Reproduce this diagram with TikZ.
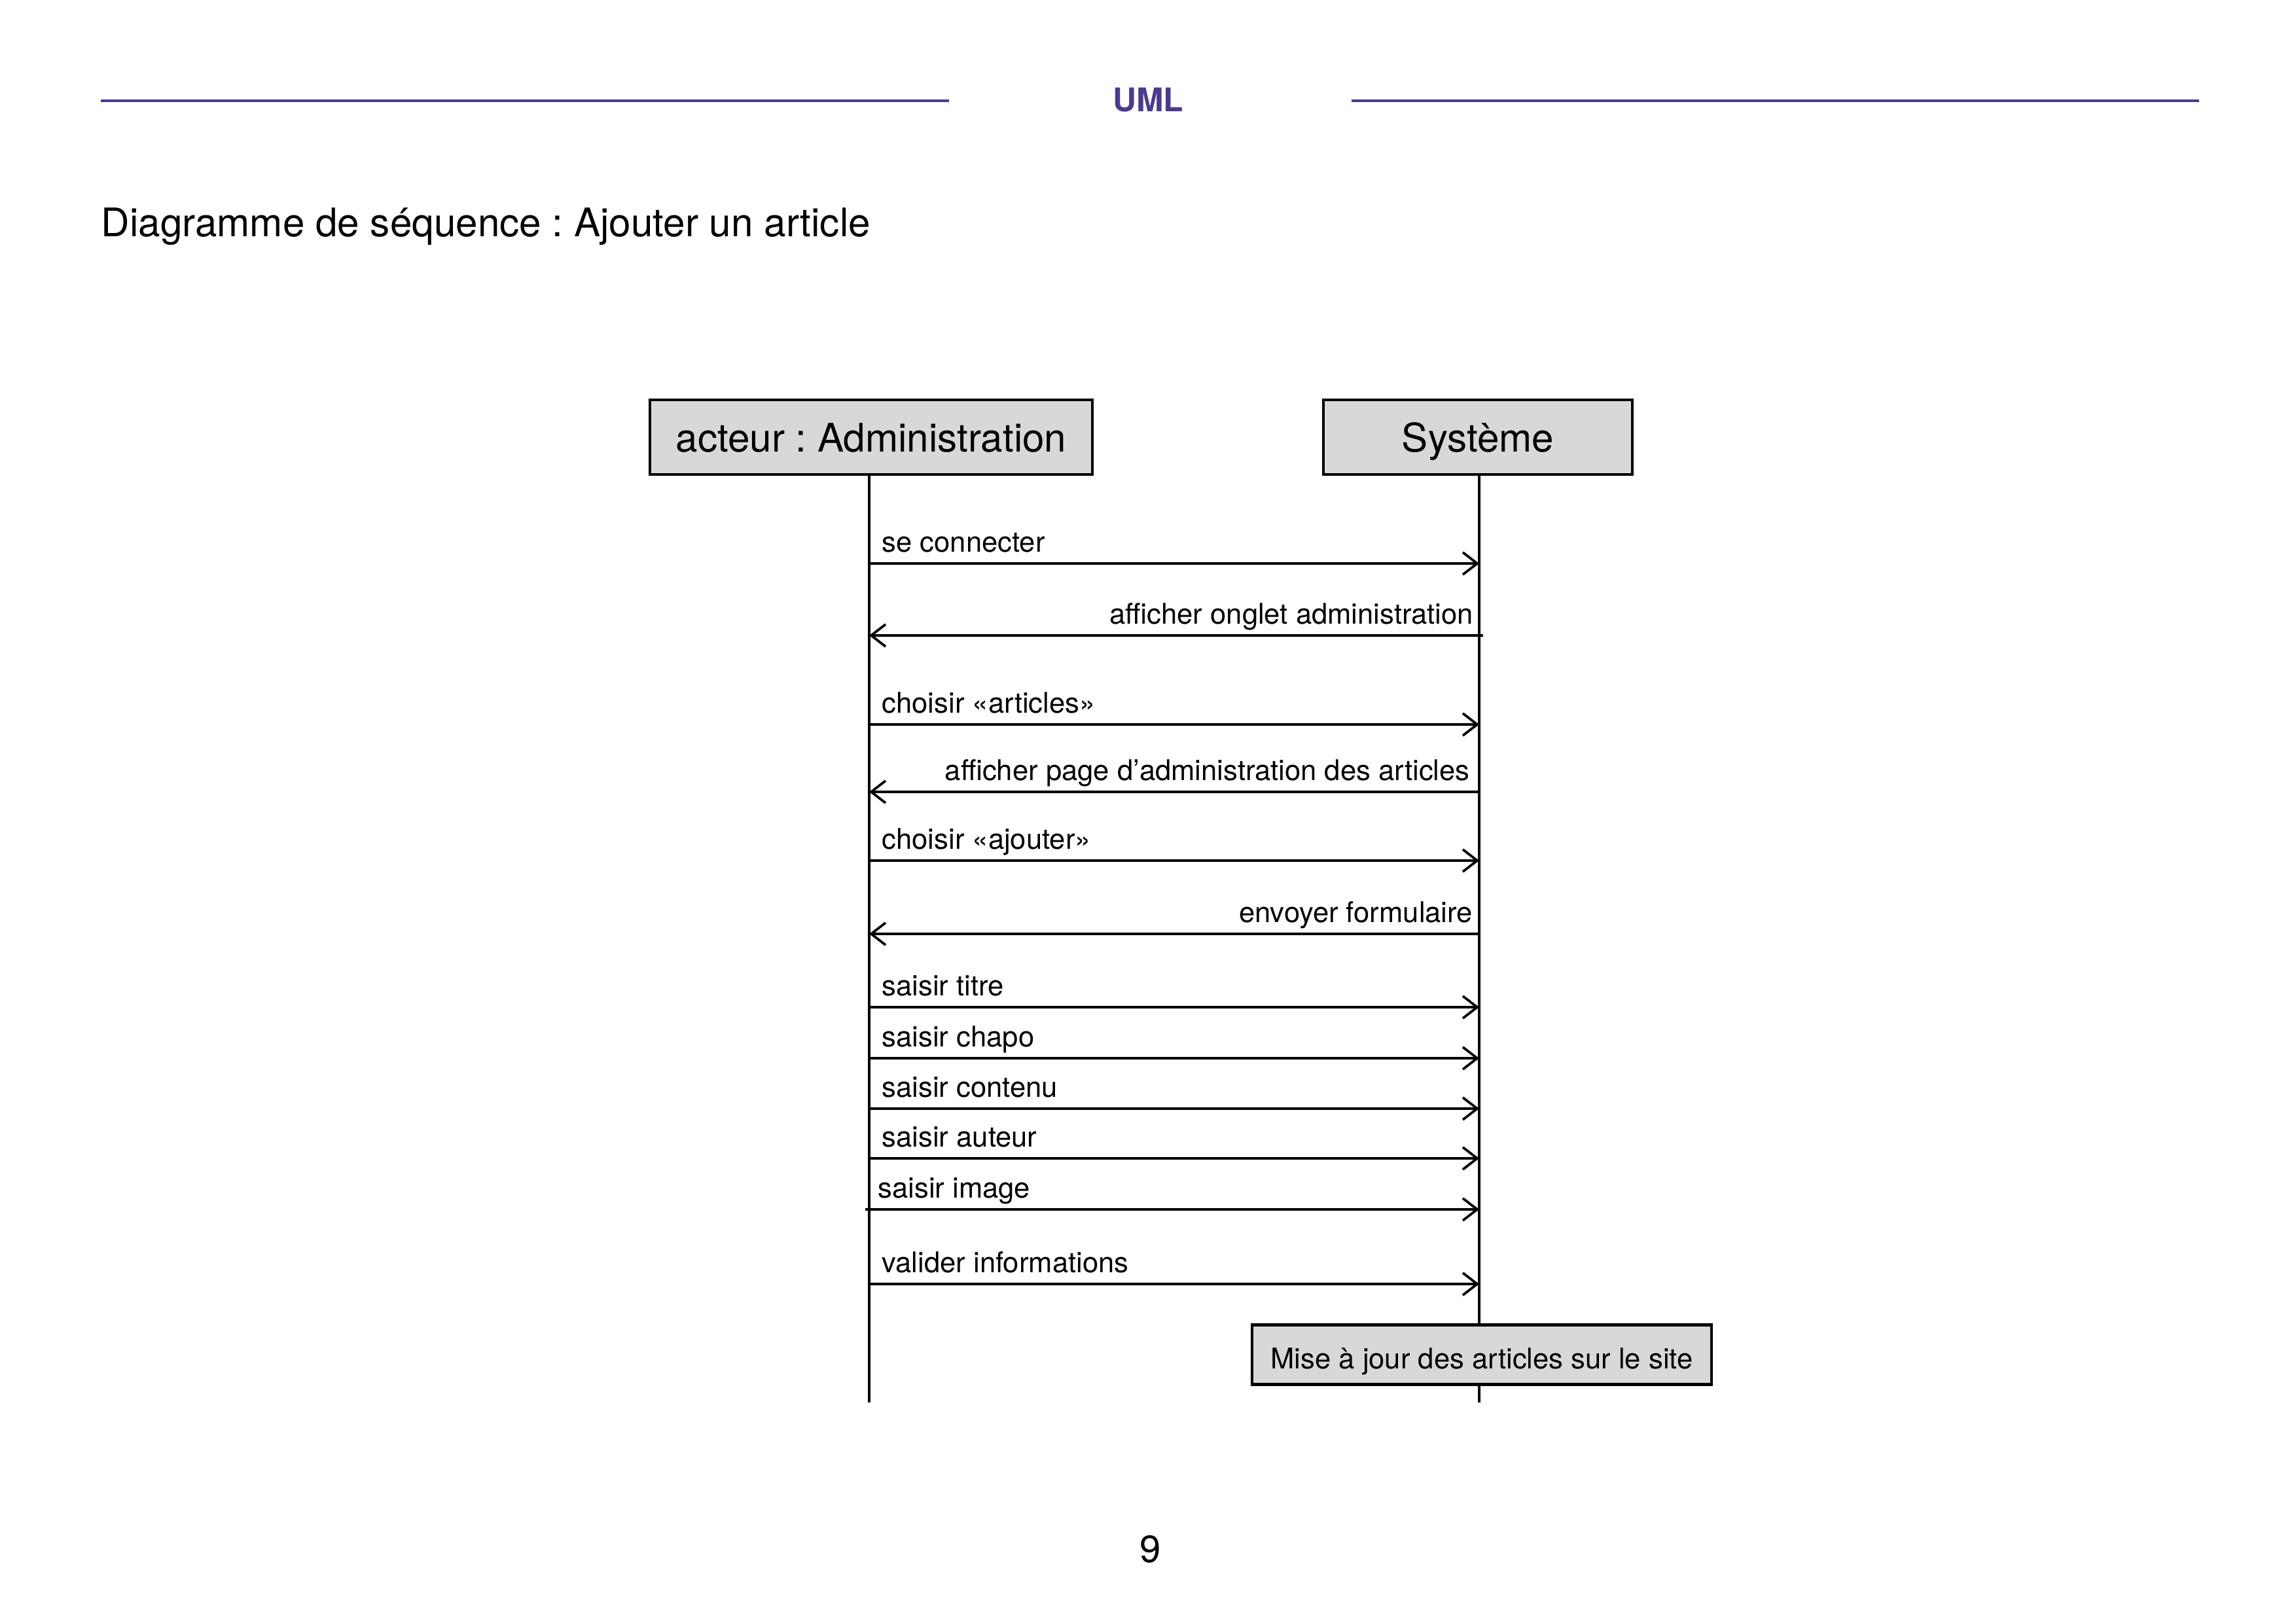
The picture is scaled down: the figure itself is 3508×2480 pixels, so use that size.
\documentclass[tikz,border=0pt]{standalone}
\usepackage{fontspec}
\setmainfont{TeX Gyre Heros}
\usetikzlibrary{arrows.meta}
\definecolor{umlpurple}{RGB}{76,58,140}
\definecolor{boxgray}{RGB}{215,216,218}
\frenchspacing

\begin{document}
\begin{tikzpicture}[x=0.084667mm,y=-0.084667mm,
  actor box/.style={rectangle,draw,fill=boxgray,line width=1pt,minimum height=9.65mm,
    inner sep=0pt,text height=1.1em,text depth=0pt,font=\fontsize{14.5}{17}\selectfont},
  note box/.style={rectangle,draw,fill=boxgray,line width=1pt,minimum width=59.4mm,
    minimum height=7.7mm,inner sep=0pt,text height=1.02em,text depth=0pt,
    font=\fontsize{10.5}{12.6}\selectfont},
  lifeline/.style={line width=0.8pt},
  msg/.style={line width=0.9pt,-{Straight Barb[length=5.3pt,width=8.2pt]}},
  label right/.style={pos=0,anchor=base west,inner sep=0pt,xshift=4.3pt,yshift=4.3pt,
    font=\fontsize{10.5}{12.6}\selectfont},
  label left/.style={pos=0,anchor=base east,inner sep=0pt,xshift=-2pt,yshift=4.3pt,
    font=\fontsize{10.5}{12.6}\selectfont}]

  \useasboundingbox (0,0) rectangle (3508,2480);

  % header
  \coordinate (hl1) at (154,154);
  \coordinate (hl2) at (1450,154);
  \coordinate (hr1) at (2065,154);
  \coordinate (hr2) at (3360,154);
  \draw[umlpurple,line width=1pt] (hl1) -- (hl2);
  \draw[umlpurple,line width=1pt] (hr1) -- (hr2);
  \node[anchor=base,text=umlpurple,font=\fontsize{12}{14}\selectfont\bfseries] (uml) at (1754,171) {UML};
  \node[anchor=base west,inner sep=0pt,font=\fontsize{14.5}{17}\selectfont] (title) at (154,362)
    {Diagramme de séquence : Ajouter un article};

  % actors
  \node[actor box,minimum width=57.2mm] (admin) at (1331,668) {acteur : Administration};
  \node[actor box,minimum width=40mm] (sys) at (2258,668) {Système};
  \coordinate (admin end) at (1328,2143);
  \coordinate (sys end) at (2260,2143);
  \draw[lifeline] (admin.south -| admin end) -- (admin end);
  \draw[lifeline] (sys.south -| sys end) -- (sys end);

  % messages
  \coordinate (a1) at (1328,861);  \coordinate (s1) at (2260,861);
  \coordinate (a2) at (1328,971);  \coordinate (s2) at (2266,971);
  \coordinate (a3) at (1328,1107); \coordinate (s3) at (2260,1107);
  \coordinate (a4) at (1328,1210); \coordinate (s4) at (2260,1210);
  \coordinate (a5) at (1328,1315); \coordinate (s5) at (2260,1315);
  \coordinate (a6) at (1328,1427); \coordinate (s6) at (2260,1427);
  \coordinate (a7) at (1328,1539); \coordinate (s7) at (2260,1539);
  \coordinate (a8) at (1328,1617); \coordinate (s8) at (2260,1617);
  \coordinate (a9) at (1328,1694); \coordinate (s9) at (2260,1694);
  \coordinate (a10) at (1328,1770); \coordinate (s10) at (2260,1770);
  \coordinate (a11) at (1322,1848); \coordinate (s11) at (2260,1848);
  \coordinate (a12) at (1328,1962); \coordinate (s12) at (2260,1962);

  \path[msg]
    (a1) edge node[label right]{se connecter} (s1)
    (s2) edge node[label left,xshift=-1.2pt]{afficher onglet administration} (a2)
    (a3) edge node[label right]{choisir «articles»} (s3)
    (s4) edge node[label left,xshift=-1pt]{afficher page d’administration des articles} (a4)
    (a5) edge node[label right]{choisir «ajouter»} (s5)
    (s6) edge node[label left]{envoyer formulaire} (a6)
    (a7) edge node[label right]{saisir titre} (s7)
    (a8) edge node[label right]{saisir chapo} (s8)
    (a9) edge node[label right]{saisir contenu} (s9)
    (a10) edge node[label right]{saisir auteur} (s10)
    (a11) edge node[label right]{saisir image} (s11)
    (a12) edge node[label right]{valider informations} (s12);

  % note
  \node[note box] (note) at (2264,2070) {Mise à jour des articles sur le site};

  % page number
  \node[anchor=base,inner sep=0pt,font=\fontsize{14}{17}\selectfont] (page) at (1758,2387) {9};
\end{tikzpicture}
\end{document}
